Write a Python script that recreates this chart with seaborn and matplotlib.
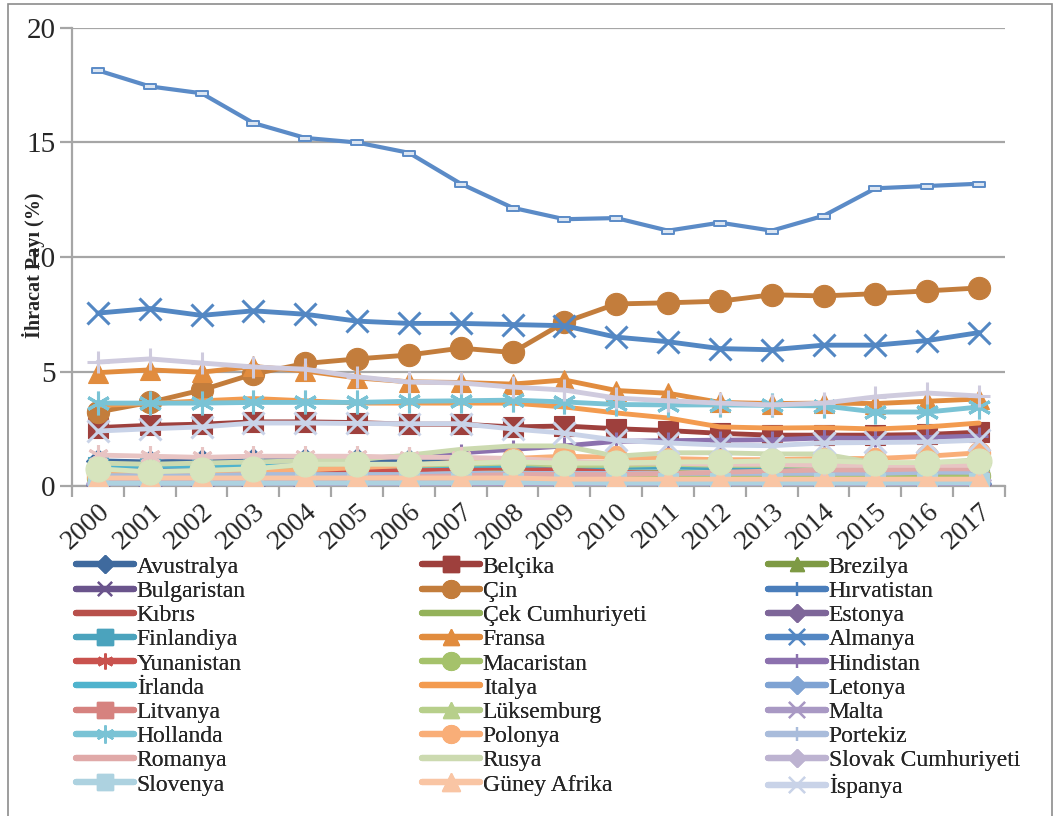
import matplotlib
matplotlib.use("Agg")
import matplotlib.pyplot as plt
from matplotlib.lines import Line2D
from matplotlib.patches import Rectangle
from matplotlib.path import Path
import numpy as np
import pandas as pd
import seaborn as sns

sns.set_theme(style="white")
plt.rcParams["font.family"] = ["Liberation Serif", "DejaVu Serif"]

years = list(range(2000, 2018))
year_labels = [str(y) for y in years]

# Export shares (%) by country, 2000-2017
avustralya = [1.1, 1.05, 1.1, 1.15, 1.15, 1.15, 1.1, 1.1, 1.05, 1.0, 1.0, 1.0, 1.0, 0.95, 0.95, 0.95, 1.0, 1.0]
belcika = [2.55, 2.65, 2.7, 2.8, 2.8, 2.77, 2.7, 2.7, 2.58, 2.62, 2.5, 2.42, 2.3, 2.22, 2.22, 2.22, 2.25, 2.35]
brezilya = [0.55, 0.5, 0.55, 0.6, 0.65, 0.7, 0.75, 0.8, 0.85, 0.8, 0.82, 0.85, 0.85, 0.8, 0.8, 0.72, 0.7, 0.72]
bulgaristan = [0.06, 0.07, 0.08, 0.1, 0.1, 0.12, 0.13, 0.15, 0.16, 0.15, 0.14, 0.14, 0.15, 0.15, 0.16, 0.16, 0.17, 0.18]
cin = [3.23, 3.65, 4.19, 4.89, 5.35, 5.55, 5.72, 6.02, 5.83, 7.15, 7.95, 8.0, 8.07, 8.35, 8.3, 8.4, 8.52, 8.65]
hirvatistan = [0.3, 0.3, 0.32, 0.33, 0.33, 0.33, 0.33, 0.34, 0.35, 0.33, 0.3, 0.3, 0.3, 0.3, 0.3, 0.3, 0.32, 0.33]
kibris = [0.25, 0.25, 0.25, 0.27, 0.27, 0.3, 0.3, 0.3, 0.3, 0.28, 0.25, 0.25, 0.22, 0.2, 0.2, 0.2, 0.2, 0.2]
cek = [0.45, 0.45, 0.45, 0.45, 0.5, 0.5, 0.5, 0.55, 0.6, 0.6, 0.55, 0.6, 0.55, 0.55, 0.55, 0.55, 0.6, 0.6]
estonya = [0.05, 0.05, 0.05, 0.06, 0.06, 0.07, 0.07, 0.08, 0.08, 0.08, 0.08, 0.08, 0.09, 0.09, 0.09, 0.09, 0.1, 0.1]
finlandiya = [0.82, 0.82, 0.8, 0.8, 0.82, 0.8, 0.8, 0.8, 0.82, 0.85, 0.82, 0.82, 0.8, 0.78, 0.75, 0.75, 0.75, 0.75]
fransa = [4.95, 5.07, 4.97, 5.22, 5.02, 4.72, 4.55, 4.52, 4.45, 4.63, 4.17, 4.05, 3.65, 3.6, 3.62, 3.6, 3.7, 3.8]
almanya = [7.55, 7.75, 7.45, 7.65, 7.5, 7.2, 7.1, 7.1, 7.05, 7.0, 6.5, 6.3, 6.0, 5.95, 6.15, 6.15, 6.35, 6.7]
yunanistan = [0.6, 0.6, 0.6, 0.65, 0.7, 0.7, 0.7, 0.75, 0.8, 0.7, 0.6, 0.55, 0.55, 0.55, 0.55, 0.55, 0.55, 0.6]
macaristan = [0.35, 0.35, 0.35, 0.4, 0.4, 0.4, 0.4, 0.4, 0.4, 0.4, 0.4, 0.4, 0.4, 0.4, 0.4, 0.4, 0.4, 0.42]
hindistan = [0.75, 0.8, 0.85, 0.95, 1.1, 1.2, 1.3, 1.45, 1.6, 1.75, 1.95, 1.98, 2.0, 2.02, 2.1, 2.08, 2.12, 2.18]
irlanda = [0.85, 0.86, 0.86, 0.87, 0.88, 0.88, 0.88, 0.9, 0.9, 0.92, 0.92, 0.92, 0.92, 0.92, 0.92, 0.93, 0.93, 0.95]
italya = [3.52, 3.6, 3.72, 3.82, 3.72, 3.62, 3.62, 3.62, 3.62, 3.45, 3.19, 2.97, 2.58, 2.53, 2.55, 2.49, 2.58, 2.75]
letonya = [0.07, 0.07, 0.08, 0.08, 0.09, 0.1, 0.1, 0.11, 0.12, 0.11, 0.1, 0.1, 0.1, 0.1, 0.1, 0.1, 0.1, 0.11]
litvanya = [0.06, 0.07, 0.08, 0.09, 0.1, 0.11, 0.12, 0.13, 0.14, 0.13, 0.13, 0.14, 0.14, 0.15, 0.15, 0.15, 0.15, 0.16]
luksemburg = [0.55, 0.55, 0.6, 0.7, 0.8, 0.85, 0.9, 0.95, 1.0, 0.9, 0.9, 0.95, 0.9, 0.9, 0.9, 0.9, 0.9, 0.9]
malta = [0.05, 0.05, 0.05, 0.05, 0.05, 0.05, 0.06, 0.06, 0.06, 0.06, 0.06, 0.06, 0.07, 0.07, 0.07, 0.07, 0.08, 0.08]
hollanda = [3.62, 3.62, 3.62, 3.65, 3.65, 3.65, 3.7, 3.72, 3.75, 3.67, 3.56, 3.54, 3.54, 3.52, 3.5, 3.23, 3.23, 3.45]
polonya = [0.5, 0.5, 0.55, 0.6, 0.7, 0.8, 0.9, 1.05, 1.2, 1.3, 1.25, 1.2, 1.15, 1.15, 1.2, 1.2, 1.3, 1.45]
portekiz = [0.45, 0.45, 0.45, 0.5, 0.5, 0.5, 0.5, 0.55, 0.55, 0.55, 0.55, 0.55, 0.55, 0.55, 0.55, 0.55, 0.6, 0.6]
romanya = [0.2, 0.2, 0.2, 0.25, 0.3, 0.35, 0.4, 0.45, 0.5, 0.5, 0.5, 0.55, 0.6, 0.65, 0.7, 0.7, 0.75, 0.75]
rusya = [1.0, 0.95, 1.0, 1.05, 1.1, 1.15, 1.35, 1.6, 1.75, 1.75, 1.3, 1.45, 1.45, 1.4, 1.4, 1.0, 1.0, 1.15]
slovak = [0.15, 0.15, 0.15, 0.15, 0.15, 0.15, 0.2, 0.2, 0.2, 0.2, 0.2, 0.2, 0.2, 0.2, 0.2, 0.2, 0.2, 0.25]
slovenya = [0.12, 0.12, 0.12, 0.12, 0.13, 0.13, 0.13, 0.14, 0.15, 0.14, 0.13, 0.13, 0.13, 0.13, 0.13, 0.13, 0.14, 0.14]
guney_afrika = [0.35, 0.35, 0.35, 0.35, 0.35, 0.35, 0.35, 0.35, 0.35, 0.3, 0.3, 0.3, 0.3, 0.3, 0.3, 0.3, 0.3, 0.3]
ispanya = [2.4, 2.5, 2.58, 2.75, 2.75, 2.73, 2.72, 2.72, 2.49, 2.31, 2.0, 1.88, 1.79, 1.76, 1.88, 1.9, 1.92, 2.0]
isvec = [1.35, 1.3, 1.25, 1.3, 1.3, 1.3, 1.25, 1.25, 1.2, 1.1, 1.0, 1.0, 0.95, 0.95, 0.9, 0.9, 0.9, 0.9]
turkiye = [0.75, 0.62, 0.68, 0.75, 0.95, 0.95, 0.95, 1.0, 1.05, 1.0, 1.0, 1.05, 1.05, 1.1, 1.1, 1.02, 1.02, 1.1]
ingiltere = [5.41, 5.55, 5.37, 5.2, 5.1, 4.77, 4.54, 4.5, 4.32, 4.19, 3.84, 3.72, 3.62, 3.54, 3.62, 3.89, 4.06, 3.93]
abd = [18.15, 17.45, 17.15, 15.85, 15.2, 15.0, 14.55, 13.2, 12.15, 11.65, 11.7, 11.15, 11.5, 11.15, 11.8, 13.0, 13.1, 13.2]

# small flat rectangle used as a "dash" marker
dash_marker = Path([(-1, -0.4), (1, -0.4), (1, 0.4), (-1, 0.4), (-1, -0.4)],
                   [Path.MOVETO, Path.LINETO, Path.LINETO, Path.LINETO, Path.CLOSEPOLY])
asterisk = (6, 2, 0)

# name, values, color, marker, marker size, shown in legend
series = [
    ("Avustralya", avustralya, "#3F6A9E", "D", 12, True),
    ("Belçika", belcika, "#9E403D", "s", 15, True),
    ("Brezilya", brezilya, "#7E9A44", "^", 13, True),
    ("Bulgaristan", bulgaristan, "#6A548C", "x", 13, True),
    ("Çin", cin, "#C37D3C", "o", 16, True),
    ("Hırvatistan", hirvatistan, "#4A7EBB", "+", 13, True),
    ("Kıbrıs", kibris, "#B8504B", None, 0, True),
    ("Çek Cumhuriyeti", cek, "#94B25A", None, 0, True),
    ("Estonya", estonya, "#7E6699", "D", 12, True),
    ("Finlandiya", finlandiya, "#4BA3BD", "s", 15, True),
    ("Fransa", fransa, "#E18C3E", "^", 15, True),
    ("Almanya", almanya, "#5387C3", "x", 16, True),
    ("Yunanistan", yunanistan, "#C9524E", asterisk, 15, True),
    ("Macaristan", macaristan, "#A5C26B", "o", 16, True),
    ("Hindistan", hindistan, "#8C71AE", "+", 13, True),
    ("İrlanda", irlanda, "#4FB3CD", None, 0, True),
    ("Italya", italya, "#F39B4F", None, 0, True),
    ("Letonya", letonya, "#7FA3D3", "D", 12, True),
    ("Litvanya", litvanya, "#D6827F", "s", 15, True),
    ("Lüksemburg", luksemburg, "#B7CF8B", "^", 15, True),
    ("Malta", malta, "#A999C4", "x", 15, True),
    ("Hollanda", hollanda, "#7AC3D5", asterisk, 17, True),
    ("Polonya", polonya, "#F9AE78", "o", 16, True),
    ("Portekiz", portekiz, "#A9BCDB", "+", 13, True),
    ("Romanya", romanya, "#E0A9A8", None, 0, True),
    ("Rusya", rusya, "#CCDAB0", None, 0, True),
    ("Slovak Cumhuriyeti", slovak, "#BDB3D1", "D", 12, True),
    ("Slovenya", slovenya, "#ADD2E0", "s", 15, True),
    ("Güney Afrika", guney_afrika, "#F9C5A4", "^", 16, True),
    ("İspanya", ispanya, "#C9D3E8", "x", 16, True),
    ("İsveç", isvec, "#E8C4C3", asterisk, 15, False),
    ("Türkiye", turkiye, "#D7E4BD", "o", 18, False),
    ("İngiltere", ingiltere, "#CFCBDE", "+", 16, False),
    ("ABD", abd, "#5B8BC7", dash_marker, 9, False),
]

W, H = 1059, 816
fig = plt.figure(figsize=(W / 100, H / 100), dpi=100)
ax = fig.add_axes([72 / W, 1 - 486 / H, (1005 - 72) / W, (486 - 28) / H])

for name, vals, color, marker, ms, _ in series:
    df = pd.DataFrame({"Yıl": years, "Pay": vals})
    kw = dict(solid_joinstyle="round", solid_capstyle="round")
    if marker is not None:
        if marker in ("x", "+") or marker == asterisk:
            kw.update(marker=marker, markersize=ms, markeredgewidth=2.2,
                      markeredgecolor=color)
        elif marker is dash_marker:
            kw.update(marker=marker, markersize=ms, markeredgewidth=1.4,
                      markeredgecolor=color, markerfacecolor="#DCE6F2")
        else:
            kw.update(marker=marker, markersize=ms, markeredgewidth=0.8,
                      markeredgecolor=color, markerfacecolor=color)
    kw["lw"] = 3.0 if name == "ABD" else 3.5
    sns.lineplot(data=df, x="Yıl", y="Pay", color=color, ax=ax, legend=False,
                 **kw)

grid_c = "#A6A6A6"
ax.set_xlim(1999.5, 2017.5)
ax.set_ylim(0, 20)
ax.set_yticks([0, 5, 10, 15, 20])
ax.yaxis.grid(True, color=grid_c, lw=1.6)
ax.xaxis.grid(False)
ax.set_axisbelow(True)
for s in ("top", "right"):
    ax.spines[s].set_visible(False)
for s in ("left", "bottom"):
    ax.spines[s].set_color(grid_c)
    ax.spines[s].set_linewidth(1.6)
ax.spines["bottom"].set_zorder(0.5)

ax.set_xticks(years)
ax.set_xticklabels(year_labels, rotation=42, ha="right", rotation_mode="anchor",
                   fontsize=20)
ax.set_xticks(np.arange(1999.5, 2018.0, 1.0), minor=True)
ax.tick_params(axis="x", which="major", length=0, pad=9)
ax.tick_params(axis="x", which="minor", length=8, width=1.6, color=grid_c,
               direction="out", bottom=True)
ax.tick_params(axis="y", length=9, width=1.6, color=grid_c, direction="out",
               labelsize=21, pad=3, left=True)
ax.set_xlabel("")
ax.set_ylabel("İhracat Payı (%)", fontsize=14.5, fontweight="bold")
ax.yaxis.set_label_coords(-0.029, 0.483)

# legend: three columns, row-major order
shown = [s for s in series if s[5]]
def handle(s):
    name, vals, color, marker, ms, _ = s
    if marker is None:
        return Line2D([], [], color=color, lw=4.5, solid_capstyle="round")
    if marker in ("x", "+") or marker == asterisk:
        return Line2D([], [], color=color, lw=4.5, marker=marker,
                      markersize=ms * 0.75, markeredgewidth=1.6,
                      solid_capstyle="round")
    return Line2D([], [], color=color, lw=4.5, marker=marker,
                  markersize=ms * 0.8, solid_capstyle="round")

col_x = [76, 422, 768]
for c in range(3):
    items = shown[c::3]
    leg = fig.legend([handle(s) for s in items], [s[0] for s in items],
                     loc="upper left", bbox_to_anchor=(col_x[c] / W, 1 - 556 / H),
                     frameon=False, fontsize=17, handlelength=2.45,
                     handletextpad=0.12, labelspacing=0.115, borderpad=0,
                     borderaxespad=0)
    fig.add_artist(leg)

# outer chart border
fig.patches.append(Rectangle((8 / W, -0.02), (1052 - 8) / W, 1.02 - 4 / H,
                             transform=fig.transFigure, fill=False,
                             edgecolor="#8C8C8C", lw=1.2))

fig.savefig("out.png", dpi=100, facecolor="white")
